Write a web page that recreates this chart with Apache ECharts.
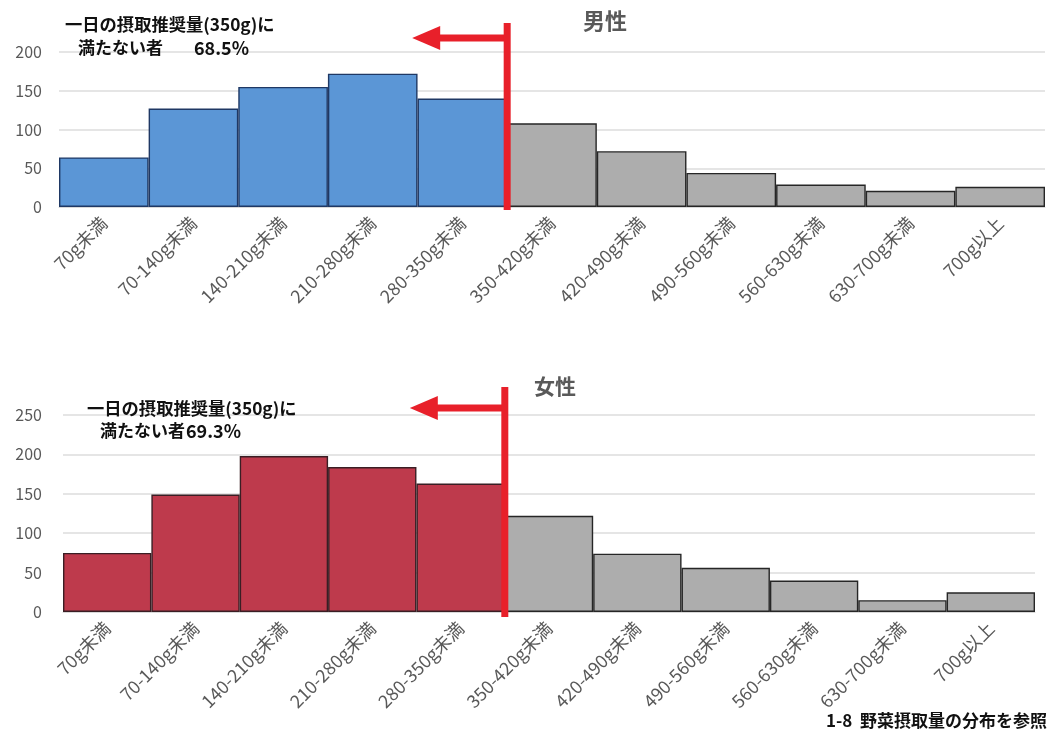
<!DOCTYPE html>
<html>
<head>
<meta charset="utf-8">
<script src="https://cdn.jsdelivr.net/npm/echarts@6/dist/echarts.min.js"></script>
<style>
  html, body { margin: 0; padding: 0; background: #ffffff; }
  #chart { width: 1049px; height: 734px; }
</style>
</head>
<body>
<div id="chart"></div>
<script>
// Intake bins (g/day) shared by both panels
const categories = ['70g未満', '70-140g未満', '140-210g未満', '210-280g未満', '280-350g未満',
  '350-420g未満', '420-490g未満', '490-560g未満', '560-630g未満', '630-700g未満', '700g以上'];
// Number of people in each bin
const maleCounts = [64, 127, 155, 172, 140, 108, 72, 44, 29, 21, 26];
const femaleCounts = [75, 149, 198, 184, 163, 122, 74, 56, 40, 15, 25];
// Value-axis ranges
const maleAxisMax = 200;
const femaleAxisMax = 250;
const axisStep = 50;
// Bins that fall below the 350 g recommendation
const belowCount = 5;
// Text
const maleTitle = '男性';
const femaleTitle = '女性';
const noteLine1 = '一日の摂取推奨量(350g)に';
const noteLine2 = '満たない者';
const malePct = '68.5%';
const femalePct = '69.3%';
const sourceNote = '1-8  野菜摂取量の分布を参照';

const FONT = '"Noto Sans CJK JP", "Noto Sans", sans-serif';
const AXIS_GREY = '#595959';
const ARROW_RED = '#E8202A';

const chart = echarts.init(document.getElementById('chart'), null, { renderer: 'canvas' });

function barStyle(fillBelow, borderBelow) {
  return function (i) {
    const below = i < belowCount;
    return {
      color: below ? fillBelow : '#ADADAD',
      borderColor: below ? borderBelow : '#262626',
      borderWidth: 1.4
    };
  };
}

function makeData(values, styleFn) {
  return values.map((v, i) => ({ value: v, itemStyle: styleFn(i) }));
}

function xAxisCfg(gridIndex) {
  return {
    type: 'category',
    gridIndex: gridIndex,
    data: categories,
    axisLine: { show: true, lineStyle: { color: '#D9D9D9', width: 1 } },
    axisTick: { show: false },
    axisLabel: {
      rotate: 45,
      margin: 13,
      interval: 0,
      color: AXIS_GREY,
      fontSize: 18,
      fontFamily: FONT
    }
  };
}

function yAxisCfg(gridIndex, max, margin) {
  return {
    type: 'value',
    gridIndex: gridIndex,
    min: 0,
    max: max,
    interval: axisStep,
    axisLine: { show: false },
    axisTick: { show: false },
    splitLine: { lineStyle: { color: '#DDDDDD', width: 1.5 } },
    axisLabel: { color: AXIS_GREY, fontSize: 16, fontFamily: FONT, margin: margin }
  };
}

chart.setOption({
  animation: false,
  backgroundColor: '#ffffff',
  grid: [
    { left: 59, right: 4, top: 52, height: 155 },
    { left: 63, right: 14, top: 415, height: 197 }
  ],
  xAxis: [xAxisCfg(0), xAxisCfg(1)],
  yAxis: [yAxisCfg(0, maleAxisMax, 17), yAxisCfg(1, femaleAxisMax, 21)],
  series: [
    {
      name: maleTitle,
      type: 'bar',
      xAxisIndex: 0,
      yAxisIndex: 0,
      barCategoryGap: 0,
      data: makeData(maleCounts, barStyle('#5B96D6', '#1F3864'))
    },
    {
      name: femaleTitle,
      type: 'bar',
      xAxisIndex: 1,
      yAxisIndex: 1,
      barCategoryGap: 0,
      data: makeData(femaleCounts, barStyle('#BE3A4C', '#3A1E24'))
    }
  ]
});

// Boundary between the last "below" bin and the first bin at/over 350 g
function boundaryX(idx) {
  const a = chart.convertToPixel({ xAxisIndex: idx, yAxisIndex: idx }, [belowCount - 1, 0]);
  const b = chart.convertToPixel({ xAxisIndex: idx, yAxisIndex: idx }, [belowCount, 0]);
  return (a[0] + b[0]) / 2;
}

function arrowGroup(idx, axisMax, lineTopOff, lineBottomOff, arrowOff) {
  const bx = boundaryX(idx);
  const topY = chart.convertToPixel({ xAxisIndex: idx, yAxisIndex: idx }, [0, axisMax])[1];
  const zeroY = chart.convertToPixel({ xAxisIndex: idx, yAxisIndex: idx }, [0, 0])[1];
  const ay = topY - arrowOff;
  const tipX = bx - 95;
  return [
    {
      type: 'line', z: 100,
      shape: { x1: tipX + 24, y1: ay, x2: bx, y2: ay },
      style: { stroke: ARROW_RED, lineWidth: 7 }
    },
    {
      type: 'polygon', z: 100,
      shape: { points: [[tipX, ay], [tipX + 28, ay - 12], [tipX + 28, ay + 12]] },
      style: { fill: ARROW_RED }
    },
    {
      type: 'line', z: 101,
      shape: { x1: bx, y1: topY - lineTopOff, x2: bx, y2: zeroY + lineBottomOff },
      style: { stroke: ARROW_RED, lineWidth: 7 }
    }
  ];
}

function textEl(x, y, text, opts) {
  return {
    type: 'text', z: 110, x: x, y: y,
    style: Object.assign({
      text: text,
      fontFamily: FONT,
      verticalAlign: 'middle'
    }, opts)
  };
}

const noteFont = { fill: '#111111', fontSize: 17, fontWeight: 'bold' };
const pctFont = { fill: '#111111', fontSize: 18, fontWeight: 'bold' };

chart.setOption({
  graphic: [].concat(
    arrowGroup(0, maleAxisMax, 29, 3, 14),
    arrowGroup(1, femaleAxisMax, 28, 5, 7),
    [
      textEl(605, 21, maleTitle, { fill: AXIS_GREY, fontSize: 22, fontWeight: 'bold', align: 'center' }),
      textEl(555, 386, femaleTitle, { fill: AXIS_GREY, fontSize: 21, fontWeight: 'bold', align: 'center' }),
      textEl(65, 24, noteLine1, Object.assign({}, noteFont, { fontSize: 17.3 })),
      textEl(78, 48, noteLine2, noteFont),
      textEl(194, 48, malePct, pctFont),
      textEl(87, 408, noteLine1, Object.assign({}, noteFont, { fontSize: 17.3 })),
      textEl(100, 431, noteLine2, noteFont),
      textEl(186, 431, femalePct, pctFont),
      textEl(1047, 721, sourceNote, { fill: '#111111', fontSize: 17, fontWeight: 'bold', align: 'right' })
    ]
  )
});
</script>
</body>
</html>
